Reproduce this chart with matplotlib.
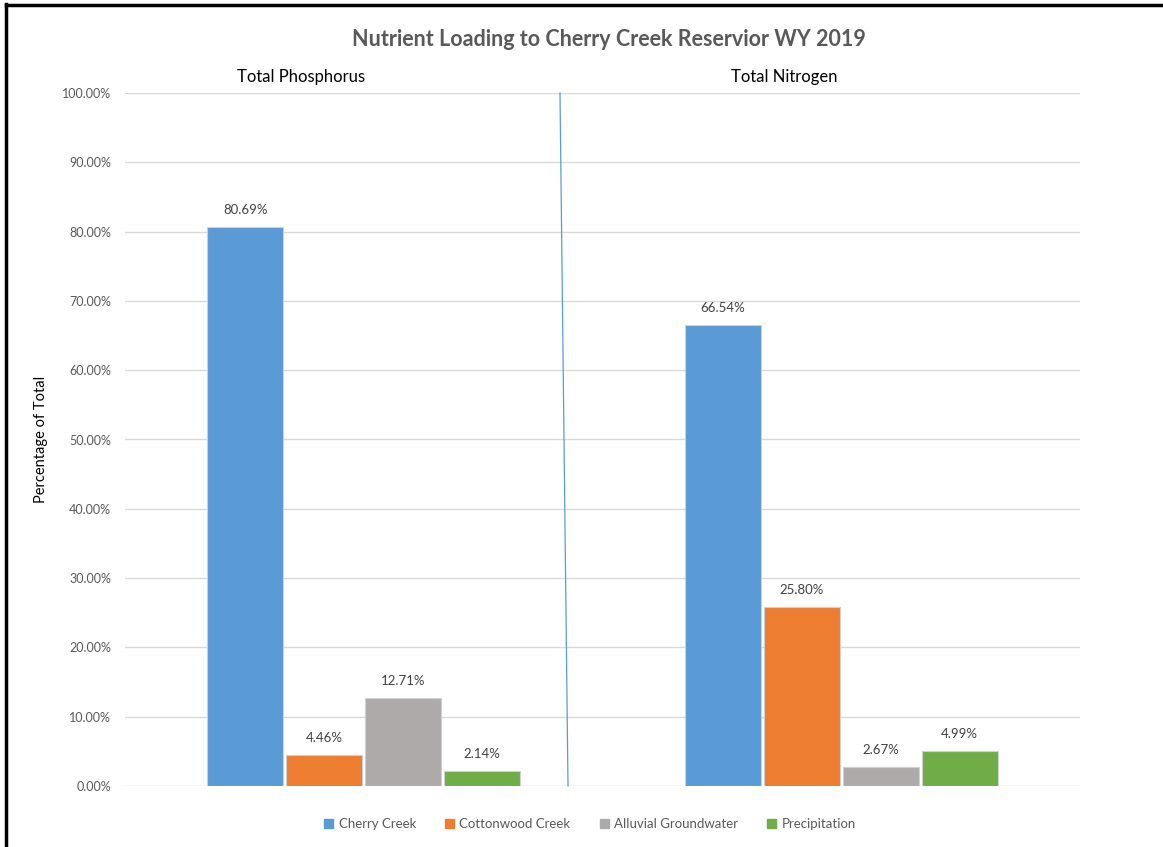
import matplotlib
matplotlib.use("Agg")
import matplotlib.pyplot as plt
import numpy as np
from matplotlib.lines import Line2D

categories = ["Total Phosphorus", "Total Nitrogen"]
series_names = ["Cherry Creek", "Cottonwood Creek", "Alluvial Groundwater", "Precipitation"]
values = {
    "Cherry Creek": [80.69, 66.54],
    "Cottonwood Creek": [4.46, 25.80],
    "Alluvial Groundwater": [12.71, 2.67],
    "Precipitation": [2.14, 4.99],
}
colors = ["#5B9BD5", "#ED7D31", "#AEAAAA", "#70AD47"]
yticks = [0, 10, 20, 30, 40, 50, 60, 70, 80, 90, 100]

plt.rcParams['font.family'] = ['Lato', 'DejaVu Sans']

W, H = 1163, 847
fig = plt.figure(figsize=(W/100, H/100), dpi=100)
ax = fig.add_axes([125/W, 1-786/H, (1080-125)/W, (786-93)/H])

x = np.arange(len(categories))
bw = 0.159
step = 0.1655
offsets = (np.arange(4) - 1.5) * step
for i, name in enumerate(series_names):
    bars = ax.bar(x + offsets[i], values[name], bw, color=colors[i],
                  edgecolor="#d0d0d0", linewidth=0.8, zorder=3, label=name)
    for b, v in zip(bars, values[name]):
        ax.annotate(f"{v:.2f}%", (b.get_x() + b.get_width()/2, v),
                    xytext=(0, 8), textcoords="offset points",
                    ha="center", va="bottom", fontsize=9.5, color="#404040")

ax.set_xlim(-0.5, 1.5)
ax.set_ylim(0, 100)
ax.set_yticks(yticks)
ax.set_yticklabels([f"{t:.2f}%" for t in yticks], fontsize=9, color="#595959")
ax.set_xticks([])
ax.tick_params(axis='y', length=0, pad=10)
ax.grid(axis='y', color="#D9D9D9", linewidth=1, zorder=0)
for s in ax.spines.values():
    s.set_visible(False)
ax.set_ylabel("Percentage of Total", fontsize=10.5, color="black", labelpad=10)

# divider line between groups
ax.plot([(560-125)/955, (568-125)/955], [1, 0], transform=ax.transAxes,
        color="#5B9BD5", linewidth=0.9, zorder=4, clip_on=False)

# group labels
fig.text(301/W, 1-77/H, categories[0], ha="center", va="center", fontsize=12, color="black")
fig.text(784/W, 1-77/H, categories[1], ha="center", va="center", fontsize=12, color="black")

fig.text(609/W, 1-40/H, "Nutrient Loading to Cherry Creek Reservior WY 2019",
         ha="center", va="center", fontsize=15.5, fontweight="bold", color="#595959")

handles = [plt.Rectangle((0, 0), 1, 1, color=c) for c in colors]
fig.legend(handles, series_names, loc="center", bbox_to_anchor=(590/W, 1-824/H),
           ncol=4, frameon=False, fontsize=9.5, labelcolor="#595959",
           handlelength=0.7, handleheight=0.7, handletextpad=0.4, columnspacing=2.2)

# partial border (left and top)
fig.add_artist(Line2D([6/W, 6/W], [0, 1-4/H], color="black", linewidth=2.5))
fig.add_artist(Line2D([6/W, 1], [1-5/H, 1-5/H], color="black", linewidth=2.5))

fig.savefig("out.png", dpi=100)
